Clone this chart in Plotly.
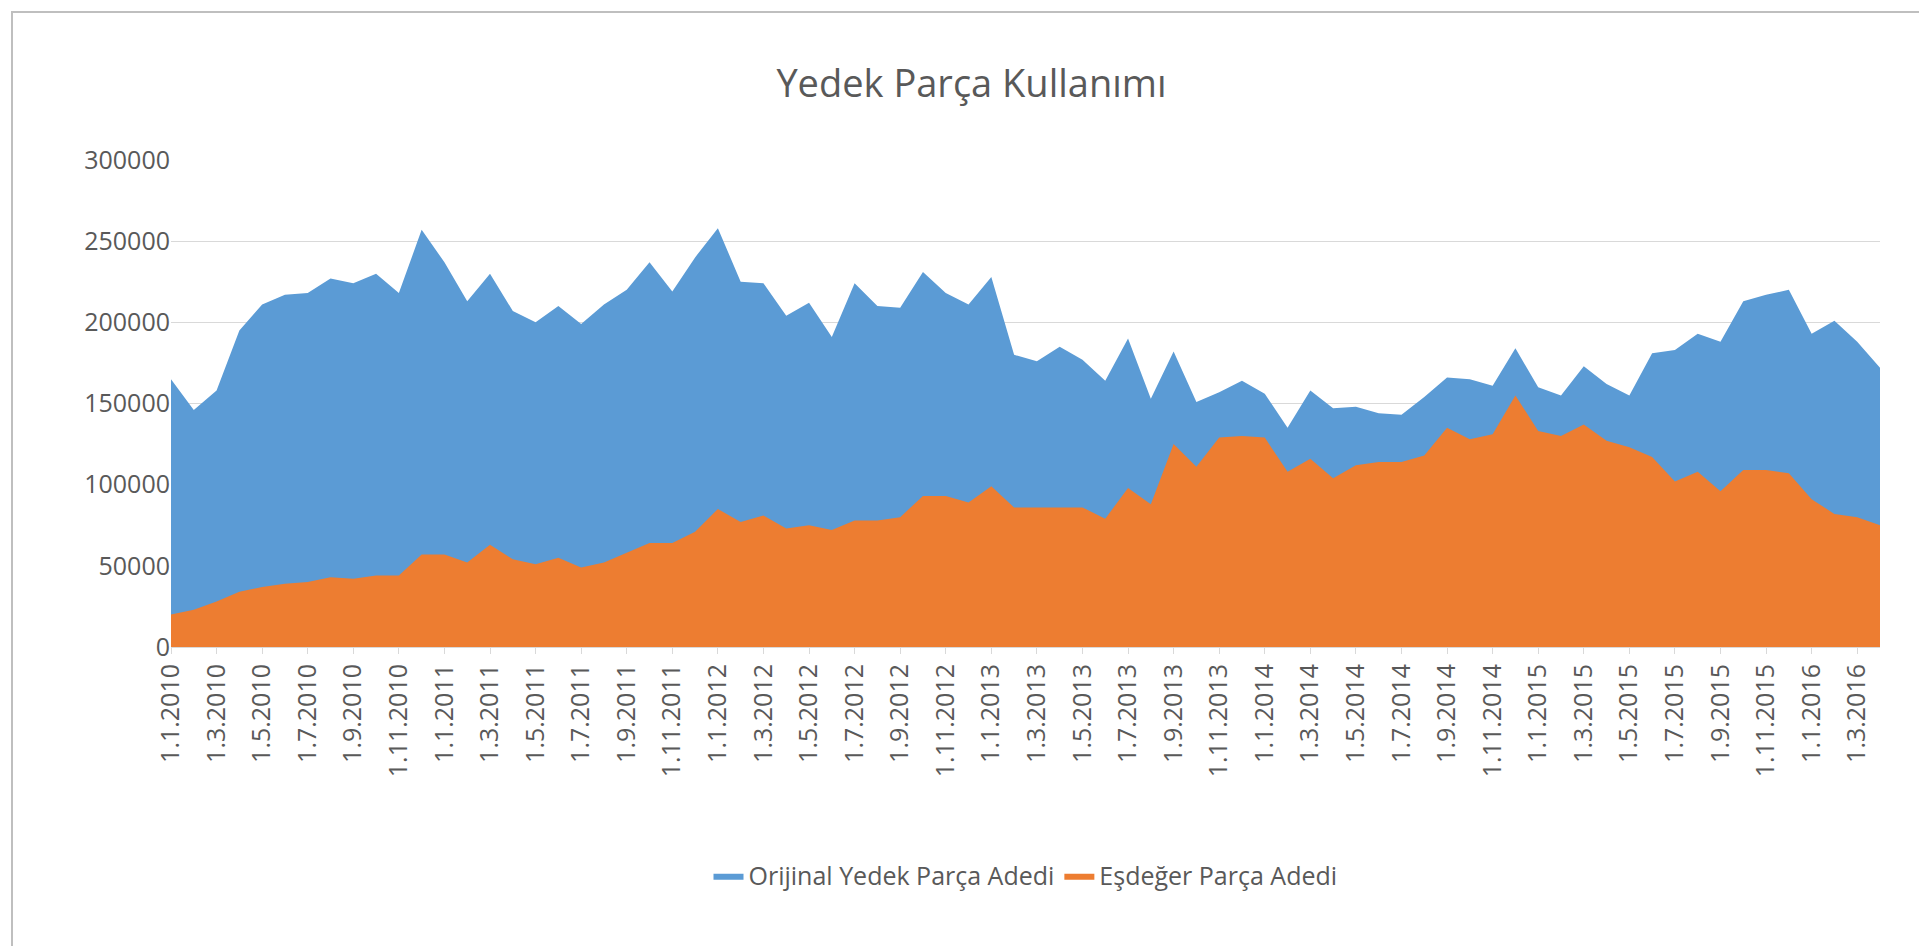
import plotly.graph_objects as go

dates = [f"1.{m}.{y}" for y in range(2010, 2017) for m in range(1, 13)][:76]
orijinal = [165000,146000,158000,195000,211000,217000,218000,227000,224000,230000,218000,257000,
            237000,213000,230000,207000,200000,210000,199000,211000,220000,237000,219000,240000,
            258000,225000,224000,204000,212000,191000,224000,210000,209000,231000,218000,211000,
            228000,180000,176000,185000,177000,164000,190000,153000,182000,151000,157000,164000,
            156000,135000,158000,147000,148000,144000,143000,154000,166000,165000,161000,184000,
            160000,155000,173000,162000,155000,181000,183000,193000,188000,213000,217000,220000,
            193000,201000,188000,172000]
esdeger = [20000,23000,28000,34000,37000,39000,40000,43000,42000,44000,44000,57000,
           57000,52000,63000,54000,51000,55000,49000,52000,58000,64000,64000,71000,
           85000,77000,81000,73000,75000,72000,78000,78000,80000,93000,93000,89000,
           99000,86000,86000,86000,86000,79000,98000,88000,125000,111000,129000,130000,
           129000,108000,116000,104000,112000,114000,114000,118000,135000,128000,131000,155000,
           133000,130000,137000,127000,123000,117000,102000,108000,96000,109000,109000,107000,
           91000,82000,80000,75000]

W, H = 1927, 946
L, R, T, B = 163, 55, 152, 307
pw, ph = W - L - R, H - T - B

fig = go.Figure()
fig.add_trace(go.Scatter(x=dates, y=orijinal, name="Orijinal Yedek Parça Adedi", mode="lines",
                         line=dict(width=0, color="#5B9BD5"), fill="tozeroy", fillcolor="#5B9BD5"))
fig.add_trace(go.Scatter(x=dates, y=esdeger, name="Eşdeğer Parça Adedi", mode="lines",
                         line=dict(width=0, color="#ED7D31"), fill="tozeroy", fillcolor="#ED7D31"))
fig.update_layout(
    width=W, height=H, paper_bgcolor="white", plot_bgcolor="white",
    font=dict(family="Open Sans, Noto Sans, sans-serif", color="#595959", size=25),
    title=dict(text="Yedek Parça Kullanımı", x=0.5, xanchor="center", y=0.92, yanchor="middle",
               font=dict(size=38, color="#595959")),
    margin=dict(l=L, r=R, t=T, b=B),
    legend=dict(orientation="h", x=0.5, xanchor="center", y=-0.47, yanchor="middle",
                font=dict(size=25), traceorder="normal"),
    xaxis=dict(type="category", tickvals=dates[::2], ticktext=dates[::2], tickangle=-90,
               range=[0, 75], showgrid=False, showline=True, linecolor="#D9D9D9",
               ticks="outside", tickcolor="#D9D9D9", ticklen=6),
    yaxis=dict(range=[0, 300000], dtick=50000, showgrid=True, gridcolor="#D9D9D9",
               zeroline=False, tickformat="d"),
    shapes=[dict(type="rect", xref="paper", yref="paper",
                 x0=-(L - 4) / pw, x1=1 + (R - 4) / pw,
                 y0=-(B - 4) / ph, y1=1 + (T - 4) / ph,
                 line=dict(color="#BFBFBF", width=2))],
)
fig.write_html("out.html")
